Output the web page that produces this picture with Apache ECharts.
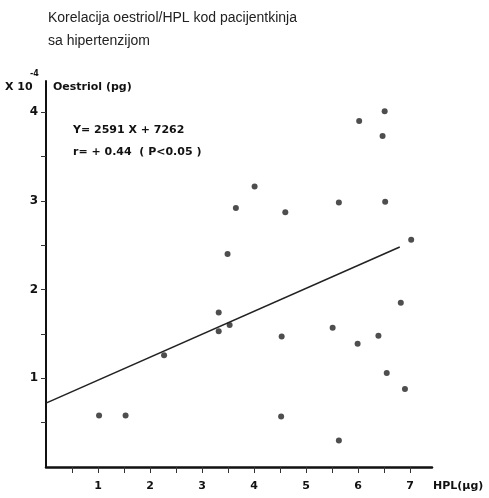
<!DOCTYPE html>
<html>
<head>
<meta charset="utf-8">
<script src="https://cdn.jsdelivr.net/npm/echarts@6/dist/echarts.min.js"></script>
<style>
  html, body { margin: 0; padding: 0; background: #fff; }
  #chart { width: 489px; height: 498px; }
</style>
</head>
<body>
<div id="chart"></div>
<script>
// HPL (µg) i oestriol (x10^4 pg) po pacijentkinji
var hpl = [1.02, 1.53, 2.27, 3.32, 3.32, 3.53, 3.49, 3.65, 4.01, 4.6, 4.53, 4.52, 5.51,
           5.63, 5.63, 5.99, 6.02, 6.39, 6.47, 6.51, 6.52, 6.55, 6.82, 6.9, 7.02];
var oestriol = [0.58, 0.58, 1.26, 1.74, 1.53, 1.60, 2.40, 2.92, 3.16, 2.87, 1.47, 0.57, 1.57,
                2.98, 0.30, 1.39, 3.90, 1.48, 3.73, 4.01, 2.99, 1.06, 1.85, 0.88, 2.56];
// regresijska linija Y = 2591 X + 7262
var lineX = [0, 6.8];
var lineY = [0.72, 2.48];
var xTicks = [0.5, 1, 1.5, 2, 2.5, 3, 3.5, 4, 4.5, 5, 5.5, 6, 6.5, 7];
var xLabels = [1, 2, 3, 4, 5, 6, 7];
var yTicks = [0.5, 1, 1.5, 2, 2.5, 3, 3.5, 4];
var yLabels = [1, 2, 3, 4];

var points = hpl.map(function (x, i) { return [x, oestriol[i]]; });
var line = lineX.map(function (x, i) { return [x, lineY[i]]; });

var myChart = echarts.init(document.getElementById('chart'));
var bold = { color: '#111', fontSize: 11, fontWeight: 'bold', fontFamily: 'DejaVu Sans' };

var option = {
  animation: false,
  grid: { left: 46, right: 57, top: 81, bottom: 31 },
  xAxis: {
    type: 'value', min: 0, max: 7.42,
    splitLine: { show: false },
    axisLine: { lineStyle: { color: '#111', width: 2.5 } },
    axisTick: { show: true, length: 6, customValues: xTicks, lineStyle: { color: '#333', width: 1 } },
    axisLabel: { customValues: xLabels, margin: 14, textStyle: bold }
  },
  yAxis: {
    type: 'value', min: 0, max: 4.35,
    splitLine: { show: false },
    axisLine: { show: true, lineStyle: { color: '#111', width: 2 } },
    axisTick: { show: true, length: 5, customValues: yTicks, lineStyle: { color: '#333', width: 1 } },
    axisLabel: { customValues: yLabels, margin: 8, textStyle: { color: '#111', fontSize: 12, fontWeight: 'bold', fontFamily: 'DejaVu Sans' } }
  },
  graphic: [
    { type: 'text', left: 48, top: 7, style: { text: 'Korelacija oestriol/HPL kod pacijentkinja\nsa hipertenzijom', fill: '#222', fontSize: 14, lineHeight: 23, fontFamily: 'Liberation Sans' } },
    { type: 'text', left: 5, top: 82, style: { text: 'X 10', fill: '#111', fontSize: 11, fontWeight: 'bold', fontFamily: 'DejaVu Sans' } },
    { type: 'text', left: 30, top: 70, style: { text: '-4', fill: '#111', fontSize: 8, fontWeight: 'bold', fontFamily: 'DejaVu Sans' } },
    { type: 'text', left: 53, top: 82, style: { text: 'Oestriol (pg)', fill: '#111', fontSize: 11, fontWeight: 'bold', fontFamily: 'DejaVu Sans' } },
    { type: 'text', left: 73, top: 125, style: { text: 'Y= 2591 X + 7262', fill: '#111', fontSize: 11, fontWeight: 'bold', fontFamily: 'DejaVu Sans' } },
    { type: 'text', left: 73, top: 147, style: { text: 'r= + 0.44  ( P<0.05 )', fill: '#111', fontSize: 11, fontWeight: 'bold', fontFamily: 'DejaVu Sans' } },
    { type: 'text', left: 433, top: 481, style: { text: 'HPL(\u03bcg)', fill: '#111', fontSize: 11, fontWeight: 'bold', fontFamily: 'DejaVu Sans' } }
  ],
  series: [
    {
      type: 'scatter', data: points, symbolSize: 6,
      itemStyle: { color: '#222' }
    },
    {
      type: 'line', data: line, symbol: 'none',
      lineStyle: { color: '#222', width: 1.6 }
    }
  ]
};
myChart.setOption(option);
</script>
</body>
</html>
